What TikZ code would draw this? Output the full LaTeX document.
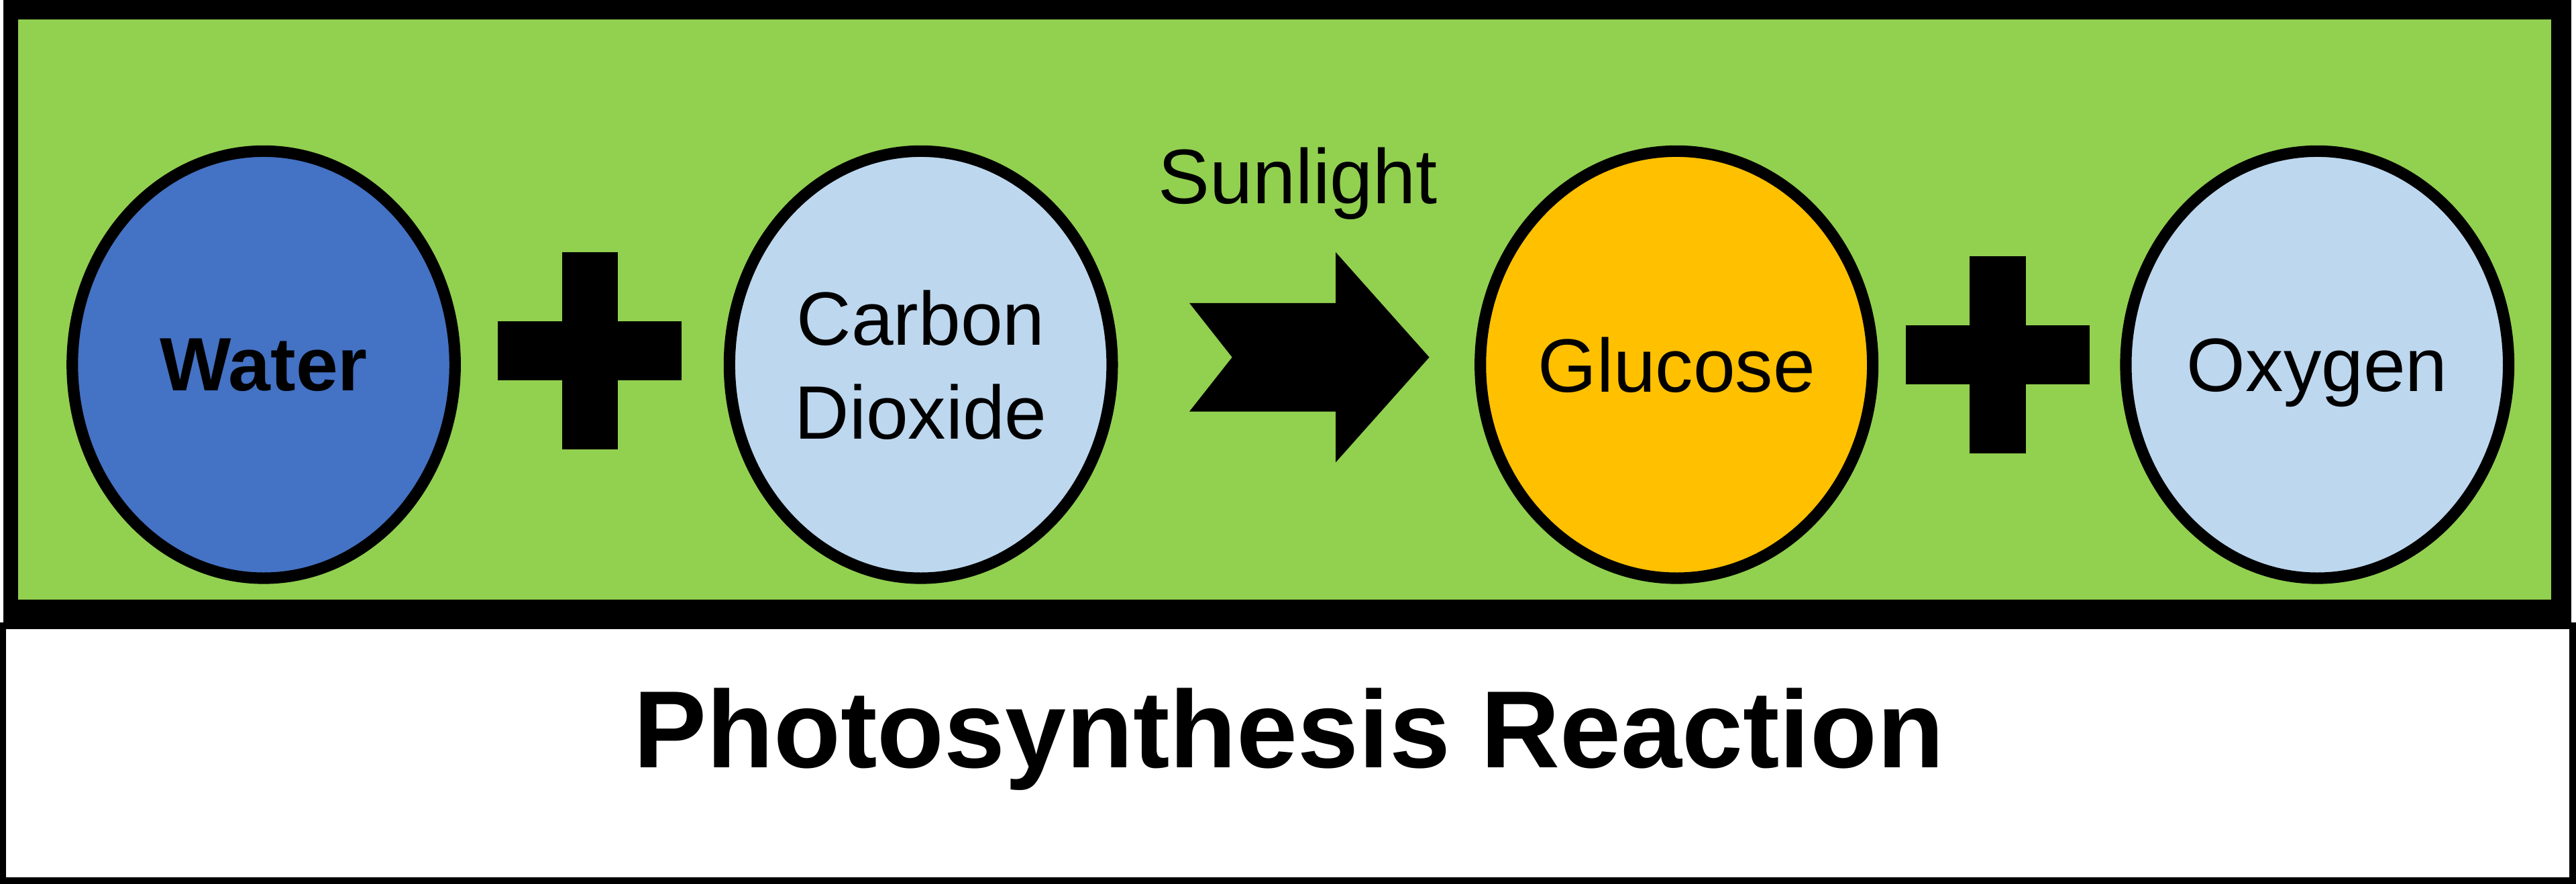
\documentclass[tikz,border=0pt]{standalone}
\usepackage{fontspec}
\setmainfont{Liberation Sans}
\usepackage{tikz}
\usetikzlibrary{shapes.geometric}

\definecolor{leafgreen}{HTML}{92D050}
\definecolor{waterblue}{HTML}{4472C4}
\definecolor{paleblue}{HTML}{BDD7EE}
\definecolor{sugarorange}{HTML}{FFC000}

\begin{document}
\begin{tikzpicture}[x=0.1mm,y=-0.1mm,node distance=40mm,
                    font=\fontsize{13.1}{16.2}\selectfont]
          \tikzstyle{mol}=[ellipse,draw,line width=0.7mm,minimum width=23.3mm,
                           minimum height=26mm,inner sep=0pt,align=center,text depth=0pt]
          \tikzstyle{bar}=[fill=black,inner sep=0pt]

          \useasboundingbox (0,0) rectangle (1568,538);
          % frames
          \fill[white] (0,0) rectangle (1568,538);
          \draw[line width=0.4mm] (1.8,381) rectangle (1566,536);
          \fill[black] (2,0) rectangle (1565,381);
          \fill[leafgreen] (11,12) rectangle (1553,365);

          \node[mol,fill=waterblue,font=\fontsize{13.1}{16.2}\selectfont\bfseries]
                                  (water) at (160.5,222)     {Water};
          \node[mol,fill=paleblue]    (co2)   [right of=water]  {Carbon\\Dioxide};
          \node[mol,fill=sugarorange] (gluc)  [right of=co2, node distance=46mm] {Glucose};
          \node[mol,fill=paleblue]    (oxy)   [right of=gluc, node distance=39mm] {Oxygen};

          % plus signs
          \node[bar,minimum width=11.2mm,minimum height=3.6mm] (plusA)  at (359,213.5) {};
          \node[bar,minimum width=3.4mm,minimum height=12mm]   (plusAv) at (plusA) {};
          \node[bar,minimum width=11.2mm,minimum height=3.6mm] (plusB)  at (1216,216) {};
          \node[bar,minimum width=3.4mm,minimum height=12mm]   (plusBv) at (plusB) {};

          % reaction arrow
          \coordinate (arr) at (797,217.5);
          \fill[shift={(arr)}] (-73,-33) -- (16,-33) -- (16,-64) -- (73,0) -- (16,64)
                -- (16,33) -- (-73,33) -- (-47,0) -- cycle;
          \node[anchor=base,font=\fontsize{13.4}{16}\selectfont] (sun) at (790,124) {Sunlight};

          \node[anchor=base,font=\fontsize{19}{23}\selectfont\bfseries]
                (title) at (784.5,467.5) {Photosynthesis Reaction};
        \end{tikzpicture}
\end{document}
